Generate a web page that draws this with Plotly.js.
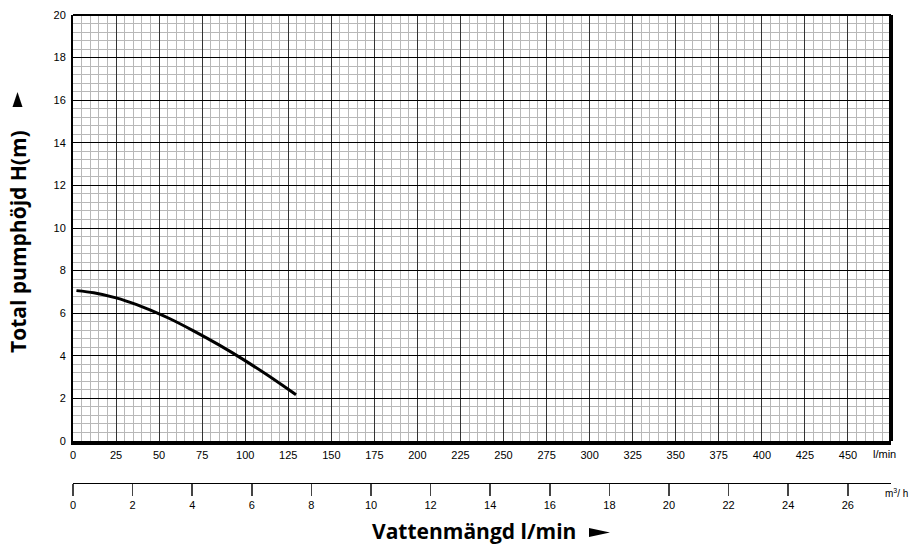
<!DOCTYPE html>
<html>
<head>
<meta charset="utf-8">
<script src="https://cdn.plot.ly/plotly-3.0.1.min.js"></script>
<style>html,body{margin:0;padding:0;background:#fff;}#chart{width:912px;height:550px;}</style>
</head>
<body>
<div id="chart"></div>
<script>
// Pump curve: flow (l/min) vs total head H (m)
const flowLmin = [2, 12, 25, 37, 48, 56, 70, 85, 99, 112, 125.6, 129.5];
const headM = [7.06, 6.96, 6.72, 6.40, 6.04, 5.75, 5.17, 4.50, 3.82, 3.14, 2.39, 2.17];

// Tick labels
const lminTicks = [0, 25, 50, 75, 100, 125, 150, 175, 200, 225, 250, 275, 300, 325, 350, 375, 400, 425, 450];
const m3hTicks = [0, 2, 4, 6, 8, 10, 12, 14, 16, 18, 20, 22, 24, 26];
const headTicks = [0, 2, 4, 6, 8, 10, 12, 14, 16, 18, 20];

const tickFont = {family: 'Liberation Sans, Arial, sans-serif', size: 11, color: '#000'};
const titleFont = {family: 'Open Sans, Noto Sans, sans-serif', size: 21, color: '#000', weight: 'bold'};

const traces = [
  {x: flowLmin, y: headM, type: 'scatter', mode: 'lines', line: {color: '#000', width: 3, shape: 'spline', smoothing: 0.8}, hoverinfo: 'x+y'},
  {x: [], y: [], xaxis: 'x2', yaxis: 'y', type: 'scatter', mode: 'markers', showlegend: false}
];

const plotBottom = 441, axis2Line = 483, plotTop = 15;
const totalH = axis2Line - plotTop;
const yDomainStart = (axis2Line - plotBottom) / totalH;
const px = v => (v - 73) / 818;
const py = v => (axis2Line - v) / totalH;

const layout = {
  width: 912, height: 550,
  margin: {l: 73, r: 21, t: plotTop, b: 550 - axis2Line},
  paper_bgcolor: '#fff', plot_bgcolor: '#fff',
  showlegend: false,
  xaxis: {
    range: [0, 475], domain: [0, 1], anchor: 'y',
    tickmode: 'array', tickvals: lminTicks, ticktext: lminTicks.map(String),
    showgrid: true, gridcolor: '#333', gridwidth: 1,
    minor: {dtick: 5, showgrid: true, gridcolor: '#b8b8b8', gridwidth: 1},
    zeroline: false, showline: true, linecolor: '#000', linewidth: 4,
    ticks: '', ticklabelstandoff: 1, tickfont: tickFont
  },
  xaxis2: {
    range: [0, 27.45], domain: [0, 1], anchor: 'free', position: 0, overlaying: 'x',
    tickmode: 'array', tickvals: m3hTicks, ticktext: m3hTicks.map(String),
    showgrid: false, zeroline: false, showline: true, linecolor: '#000', linewidth: 1,
    ticks: 'outside', ticklen: 12, tickwidth: 1.5, tickcolor: '#444', tickfont: tickFont
  },
  yaxis: {
    range: [0, 20], domain: [yDomainStart, 1], anchor: 'x',
    tickmode: 'array', tickvals: headTicks, ticktext: headTicks.map(String),
    showgrid: true, gridcolor: '#000', gridwidth: 1,
    minor: {dtick: 0.4, showgrid: true, gridcolor: '#b8b8b8', gridwidth: 1},
    zeroline: false, showline: true, linecolor: '#000', linewidth: 2,
    ticks: '', ticklabelstandoff: 3, tickfont: tickFont
  },
  shapes: [
    {type: 'line', xref: 'x domain', yref: 'y domain', x0: 0, x1: 1, y0: 1, y1: 1, line: {color: '#000', width: 2}},
    {type: 'line', xref: 'x domain', yref: 'y domain', x0: 1, x1: 1, y0: 0, y1: 1, line: {color: '#000', width: 4}},
    // title arrows
    {type: 'path', xref: 'paper', yref: 'paper', path: `M ${px(589)} ${py(528)} L ${px(589)} ${py(537)} L ${px(610)} ${py(532.5)} Z`, fillcolor: '#000', line: {width: 0}},
    {type: 'path', xref: 'paper', yref: 'paper', path: `M ${px(12.5)} ${py(107)} L ${px(22.5)} ${py(107)} L ${px(17.5)} ${py(92)} Z`, fillcolor: '#000', line: {width: 0}}
  ],
  annotations: [
    {text: 'l/min', xref: 'paper', yref: 'paper', x: px(884), y: py(454), xanchor: 'center', yanchor: 'middle', showarrow: false, font: tickFont},
    {text: 'm<sup>3</sup>/ h', xref: 'paper', yref: 'paper', x: px(896), y: py(493), xanchor: 'center', yanchor: 'middle', showarrow: false, font: {family: 'Liberation Sans, Arial, sans-serif', size: 10, color: '#000'}},
    {text: 'Vattenmängd l/min', xref: 'paper', yref: 'paper', x: px(474), y: py(531), xanchor: 'center', yanchor: 'middle', showarrow: false, font: titleFont},
    {text: 'Total pumphöjd H(m)', xref: 'paper', yref: 'paper', x: px(18), y: py(242), xanchor: 'center', yanchor: 'middle', textangle: -90, showarrow: false, font: titleFont}
  ]
};

Plotly.newPlot('chart', traces, layout, {displayModeBar: false, staticPlot: true});
</script>
</body>
</html>
